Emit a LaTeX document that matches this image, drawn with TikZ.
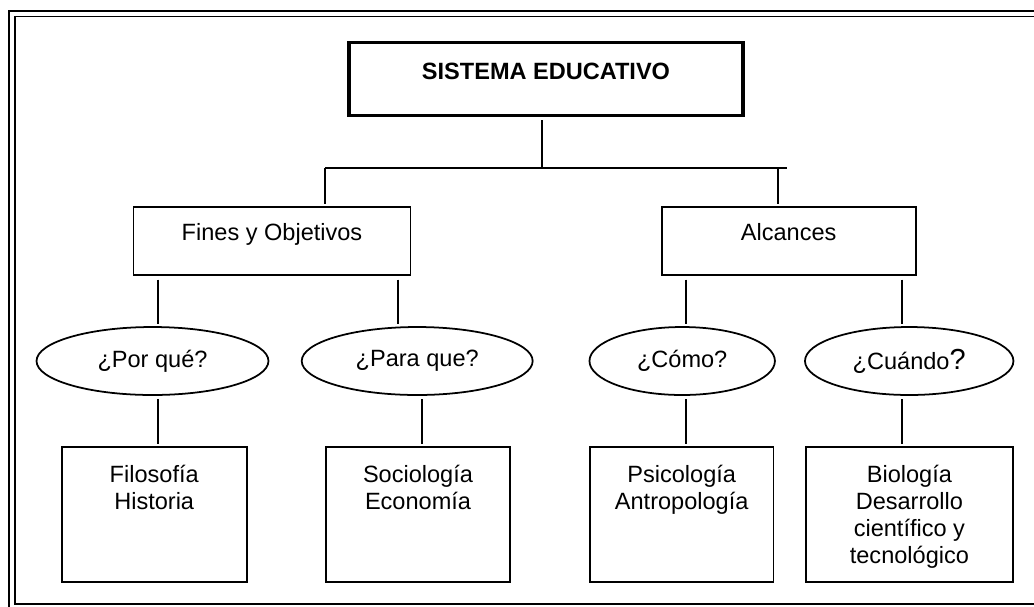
\documentclass[tikz,border=0pt]{standalone}
\usepackage{fontspec}
\setmainfont{Liberation Sans}
\usetikzlibrary{shapes.geometric}
\usetikzlibrary{calc}

\newcommand{\leaftext}[1]{\begin{minipage}[c][1.98cm][t]{3.5cm}\centering #1\end{minipage}}

\begin{document}
\begin{tikzpicture}[x=0.02cm, y=-0.02cm,
    every node/.style={font=\fontsize{13.4}{15.4}\selectfont},
    box/.style={draw, line width=1pt, minimum height=1.36cm, inner sep=0pt, text height=0.34cm, text depth=0.36cm},
    topbox/.style={box, line width=1.8pt, minimum width=7.88cm, minimum height=1.46cm, text depth=0.30cm, font=\fontsize{13.4}{15.4}\selectfont\bfseries},
    oval/.style={draw, ellipse, line width=1pt, minimum height=1.36cm, inner sep=0pt},
    leaf/.style={draw, line width=1pt, minimum height=2.7cm, inner sep=0pt},
    link/.style={line width=1pt, shorten <=0.07cm, shorten >=0.04cm}]
      \useasboundingbox (0,0) rectangle (1034,606);
      \clip (0,0) rectangle (1034,606);
      \draw [line width=1.13pt, double=white, double distance=0.068cm] (12,13.8) rectangle (1046,607);

      \node [topbox] (11) at (546,78.7) {SISTEMA EDUCATIVO};
      \node [box, minimum width=5.54cm] (21) at (272,241.2) {Fines y Objetivos}; \node [box, minimum width=5.08cm] (22) at (788.7,241.2) {Alcances};
      \node [oval, minimum width=4.64cm] (31) at (152.5,361) {¿Por qué?\hspace{0.44cm}}; \node [oval, minimum width=4.62cm] (32) at (417.2,361) {¿Para que?\hspace{0.2cm}};
      \node [oval, minimum width=3.71cm] (33) at (682.2,361) {¿Cómo?}; \node [oval, minimum width=4.17cm] (34) at (909.2,361) {¿Cuándo{\fontsize{16.5}{16}\selectfont ?}};
      \node [leaf, minimum width=3.7cm] (41) at (154.2,514.7) {\leaftext{Filosofía\\Historia}}; \node [leaf, minimum width=3.68cm] (42) at (418,514.7) {\leaftext{Sociología\\Economía}};
      \node [leaf, minimum width=3.67cm] (43) at (681.7,514.7) {\leaftext{Psicología\\Antropología}}; \node [leaf, minimum width=4.15cm] (44) at (909.4,514.7) {\leaftext{Biología\\Desarrollo\\científico y\\tecnológico}};

      \coordinate (hub) at (542,168); \coordinate (barL) at (325,168); \coordinate (barA) at (778,168); \coordinate (barR) at (787,168);
      \coordinate (a1) at (157.7,0); \coordinate (a2) at (397.7,0); \coordinate (b2) at (421.7,0); \coordinate (a3) at (685.7,0); \coordinate (a4) at (901.7,0);

      \draw [line width=1pt] (barL) -- (barR);
      \path [line width=1pt, shorten >=0.04cm]
      (barL) edge (barL |- 21.north)
      (barA) edge (barA |- 22.north);
      \path [link]
      (11.south -| hub) edge [shorten >=0pt] (hub)
      (21.south -| a1) edge (31.north -| a1)
      (21.south -| a2) edge (32.north -| a2)
      (22.south -| a3) edge (33.north -| a3)
      (22.south -| a4) edge (34.north -| a4)
      (31.south -| a1) edge (41.north -| a1)
      (32.south -| b2) edge (42.north -| b2)
      (33.south -| a3) edge (43.north -| a3)
      (34.south -| a4) edge (44.north -| a4);
    \end{tikzpicture}
\end{document}
